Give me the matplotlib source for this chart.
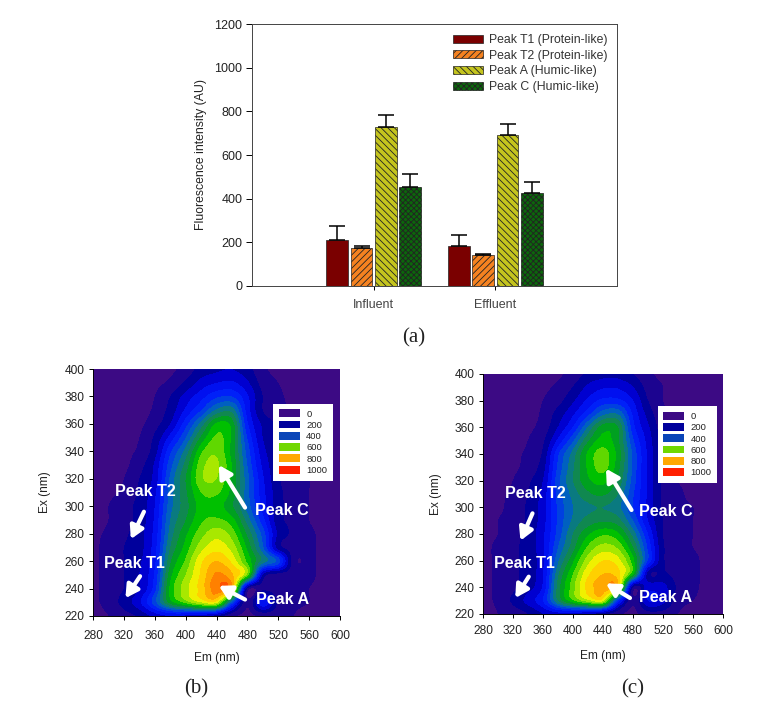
import matplotlib
matplotlib.use("Agg")
import matplotlib.pyplot as plt
from matplotlib.colors import ListedColormap, BoundaryNorm
from matplotlib.patches import Patch
import numpy as np

plt.rcParams["font.family"] = ["Liberation Sans", "DejaVu Sans"]
plt.rcParams["hatch.linewidth"] = 0.6

# bar chart data
groups = ["Influent", "Effluent"]
peak_names = ["Peak T1 (Protein-like)", "Peak T2 (Protein-like)", "Peak A (Humic-like)", "Peak C (Humic-like)"]
t1 = [210, 182]
t2 = [172, 140]
peak_a = [730, 693]
peak_c = [455, 428]
t1_err = [65, 53]
t2_err = [13, 8]
a_err = [53, 47]
c_err = [60, 50]

# EEM data, rows go from Ex 220 up to Ex 400
em = [280, 300, 320, 340, 360, 380, 400, 420, 440, 460, 480, 500, 520, 540, 560, 580, 600]
ex = [220, 230, 240, 250, 260, 270, 280, 290, 300, 310, 320, 330, 340, 350, 360, 370, 380, 390, 400]
eem_b = [
    [30, 50, 80, 110, 170, 200, 190, 170, 130, 60, 40, 60, 70, 50, 40, 30, 30],
    [40, 70, 120, 190, 330, 520, 620, 700, 720, 350, 60, 240, 90, 60, 50, 40, 40],
    [40, 70, 100, 150, 280, 560, 680, 770, 880, 810, 100, 90, 70, 70, 50, 40, 40],
    [40, 70, 100, 150, 260, 530, 650, 760, 860, 810, 630, 150, 80, 80, 60, 40, 40],
    [40, 70, 100, 140, 240, 490, 610, 740, 800, 740, 590, 430, 330, 70, 60, 40, 40],
    [40, 70, 100, 130, 230, 450, 570, 680, 730, 680, 540, 360, 130, 80, 60, 40, 40],
    [40, 60, 90, 130, 220, 420, 540, 630, 680, 630, 490, 330, 140, 90, 60, 40, 40],
    [30, 50, 80, 120, 210, 400, 500, 590, 610, 570, 430, 270, 120, 90, 50, 40, 40],
    [30, 50, 80, 120, 200, 380, 480, 570, 570, 510, 380, 230, 120, 80, 50, 40, 40],
    [30, 40, 60, 110, 190, 370, 490, 600, 610, 530, 370, 220, 120, 70, 50, 40, 40],
    [30, 30, 50, 100, 170, 360, 500, 640, 650, 540, 370, 210, 110, 60, 50, 40, 40],
    [30, 30, 40, 80, 160, 330, 470, 630, 660, 550, 350, 190, 110, 60, 40, 40, 40],
    [30, 30, 40, 60, 130, 290, 420, 590, 640, 530, 330, 170, 110, 60, 40, 40, 40],
    [30, 30, 30, 50, 110, 220, 350, 510, 610, 540, 300, 150, 100, 50, 40, 40, 40],
    [30, 30, 30, 40, 80, 150, 280, 420, 560, 530, 260, 140, 90, 50, 40, 40, 40],
    [30, 30, 30, 30, 60, 120, 210, 300, 410, 430, 230, 100, 70, 40, 40, 40, 40],
    [30, 30, 30, 30, 50, 100, 170, 230, 290, 300, 210, 100, 60, 40, 40, 40, 40],
    [30, 30, 30, 30, 40, 60, 110, 170, 200, 210, 160, 80, 50, 40, 40, 40, 40],
    [30, 30, 30, 30, 30, 40, 70, 120, 140, 150, 120, 60, 40, 40, 40, 40, 40],
]
eem_c = [
    [30, 50, 70, 100, 150, 180, 180, 150, 120, 60, 40, 80, 80, 50, 40, 30, 30],
    [40, 60, 110, 170, 250, 450, 590, 680, 710, 300, 60, 200, 170, 70, 50, 40, 40],
    [40, 60, 90, 130, 210, 470, 630, 770, 820, 770, 100, 180, 170, 90, 60, 40, 40],
    [40, 60, 90, 120, 200, 440, 600, 740, 800, 770, 560, 130, 110, 80, 60, 40, 40],
    [40, 60, 90, 120, 190, 390, 540, 680, 750, 720, 570, 300, 110, 80, 60, 40, 40],
    [40, 60, 90, 120, 190, 350, 480, 610, 670, 640, 500, 290, 110, 70, 50, 40, 40],
    [40, 50, 80, 120, 190, 320, 450, 540, 590, 560, 430, 250, 100, 70, 50, 40, 40],
    [30, 50, 70, 110, 180, 310, 410, 470, 490, 470, 350, 200, 100, 60, 50, 40, 40],
    [30, 40, 70, 110, 180, 310, 400, 440, 450, 420, 300, 190, 90, 60, 50, 40, 40],
    [30, 40, 60, 100, 170, 320, 420, 490, 510, 450, 310, 190, 90, 60, 40, 40, 40],
    [30, 30, 50, 90, 150, 330, 450, 540, 570, 490, 330, 190, 90, 50, 40, 40, 40],
    [30, 30, 40, 70, 130, 310, 440, 560, 620, 520, 340, 190, 90, 50, 40, 40, 40],
    [30, 30, 40, 60, 110, 290, 420, 560, 620, 530, 340, 190, 90, 50, 40, 40, 40],
    [30, 30, 30, 50, 90, 210, 340, 490, 570, 510, 310, 180, 80, 50, 40, 40, 40],
    [30, 30, 30, 40, 70, 150, 250, 400, 520, 500, 270, 160, 70, 40, 40, 40, 40],
    [30, 30, 30, 30, 60, 120, 190, 280, 380, 390, 240, 130, 60, 40, 40, 40, 40],
    [30, 30, 30, 30, 50, 80, 140, 210, 260, 260, 200, 100, 50, 40, 40, 40, 40],
    [30, 30, 30, 30, 40, 60, 100, 160, 190, 190, 150, 80, 50, 40, 40, 40, 40],
    [30, 30, 30, 30, 30, 40, 70, 110, 130, 130, 100, 60, 40, 40, 40, 40, 40],
]

W, H = 758, 702
fig = plt.figure(figsize=(W / 100, H / 100), dpi=100)


def add_ax(x0, x1, y0, y1):
    return fig.add_axes([x0 / W, 1 - y1 / H, (x1 - x0) / W, (y1 - y0) / H])


# (a) bars
ax = add_ax(252, 617, 24, 286)
colors = ["#7a0000", "#f58220", "#c4c41e", "#0c660c"]
hatches = [None, "/////", "\\\\\\\\\\", "xxxxxx"]
all_vals = [t1, t2, peak_a, peak_c]
all_err = [t1_err, t2_err, a_err, c_err]
offs = [-0.3, -0.1, 0.1, 0.3]
xpos = np.array([1, 2])
for vals, errs, off, c, h, name in zip(all_vals, all_err, offs, colors, hatches, peak_names):
    ax.bar(xpos + off, vals, width=0.18, color=c, edgecolor="#222222", linewidth=0.5, hatch=h, label=name)
    ax.errorbar(xpos + off, vals, yerr=[[0, 0], errs], fmt="none", ecolor="black", elinewidth=1.1, capsize=5.5, capthick=1.1)
ax.set_xlim(0, 3)
ax.set_ylim(0, 1200)
ax.set_xticks(xpos, groups)
ax.set_yticks(range(0, 1201, 200))
ax.tick_params(axis="y", labelsize=9, length=4, width=0.7, pad=3, labelcolor="#222222")
ax.tick_params(axis="x", labelsize=9, length=3, width=0.7, pad=6, labelcolor="#444444")
ax.set_ylabel("Fluorescence intensity (AU)", fontsize=8.8, labelpad=5, color="#222222")
for s in ax.spines.values():
    s.set_linewidth(0.7)
    s.set_color("#444444")
ax.legend(loc="upper right", bbox_to_anchor=(0.992, 0.985), frameon=False, fontsize=8.8, labelcolor="#333333",
          handlelength=2.45, handleheight=0.65, labelspacing=0.3, handletextpad=0.55, borderpad=0.2, borderaxespad=0.3)

# (b), (c) contour maps
levels = np.arange(0, 1001, 50)
band_cols = ["#3c0a84", "#1c0490", "#00009c", "#0000d0", "#0010f0", "#0020f8", "#0040e0", "#0060c0", "#0a7a80", "#108850",
             "#00a020", "#00c000", "#60d800", "#a8e800", "#f0f000", "#ffd000", "#ffa800", "#ff8000", "#ff5000", "#ff1800"]
cmap = ListedColormap(band_cols)
norm = BoundaryNorm(levels, cmap.N)
legend_vals = [0, 200, 400, 600, 800, 1000]
legend_cols = ["#3c0a84", "#00009c", "#0a45b8", "#70d800", "#ffa800", "#ff2000"]


def eem_panel(box, grid, labels, arrows, legend_box, xpad, xlabpad, ypad):
    ax = add_ax(*box)
    # half a cell past the first and last values, so that values sit on the axis numbers
    # catrom goes through the values, agg's bicubic smooths the peaks away
    ax.imshow(np.array(grid), origin="lower", extent=(em[0] - 10, em[-1] + 10, ex[0] - 5, ex[-1] + 5), aspect="auto",
              cmap=cmap, norm=norm, interpolation="catrom", interpolation_stage="data")
    ax.set_xlim(280, 600)
    ax.set_ylim(220, 400)
    ax.set_xticks(range(280, 601, 40))
    ax.set_yticks(range(220, 401, 20))
    ax.tick_params(labelsize=8.6, length=3, width=0.7, pad=3, labelcolor="#222222")
    ax.tick_params(axis="x", pad=xpad)
    ax.set_xlabel("Em (nm)", fontsize=8.6, labelpad=xlabpad, color="#222222")
    ax.set_ylabel("Ex (nm)", fontsize=8.6, labelpad=ypad, color="#222222")
    for s in ["top", "right"]:
        ax.spines[s].set_visible(False)
    for s in ["left", "bottom"]:
        ax.spines[s].set_linewidth(0.7)
    for txt, x, y in labels:
        ax.text(x, y, txt, color="white", fontsize=11.6, fontweight="bold", ha="center", va="center", family="Liberation Sans")
    for (x0, y0), (x1, y1) in arrows:
        ax.annotate("", xy=(x1, y1), xytext=(x0, y0),
                    arrowprops=dict(arrowstyle="-|>,head_width=0.42,head_length=0.75", color="white", lw=3, shrinkA=0, shrinkB=0))
    handles = [Patch(facecolor=c, edgecolor="none") for c in legend_cols]
    ax.legend(handles, [str(v) for v in legend_vals], loc="center", bbox_to_anchor=legend_box,
              fontsize=6.8, fancybox=False, framealpha=1, facecolor="white", edgecolor="none",
              handlelength=2.2, handleheight=0.9, labelspacing=0.22, handletextpad=0.7, borderpad=0.6, labelcolor="#222222")
    return ax


eem_panel((93, 340, 369, 616), eem_b,
          [("Peak T2", 348, 311), ("Peak T1", 334, 258), ("Peak C", 525, 297), ("Peak A", 525, 232)],
          [((346, 296), (329, 276)), ((341, 249), (322, 233)), ((477, 299), (443, 330)), ((477, 232), (443, 242))],
          (0.85, 0.704), 7, 7, 10)
eem_panel((483, 723, 374, 614), eem_c,
          [("Peak T2", 350, 310), ("Peak T1", 335, 258), ("Peak C", 524, 296.5), ("Peak A", 524, 232)],
          [((346, 295.5), (330, 275)), ((341, 248), (323, 232)), ((478, 298), (444, 329)), ((476, 232), (444, 243))],
          (0.852, 0.706), 5, 9, 9)

# panel captions
for txt, x, y in [("(a)", 414, 338), ("(b)", 196, 689), ("(c)", 633, 689)]:
    fig.text(x / W, 1 - y / H, txt, fontsize=15, family="Liberation Serif", ha="center", va="center", color="#222222")

fig.savefig("out.png", dpi=100)
